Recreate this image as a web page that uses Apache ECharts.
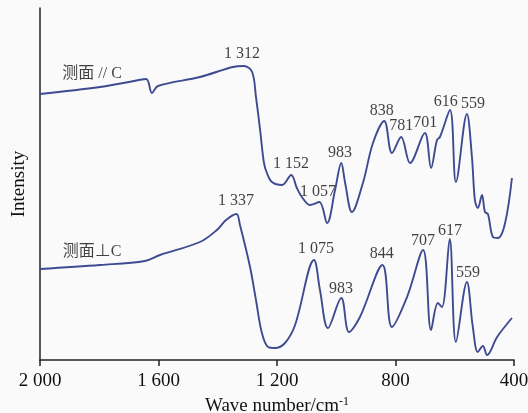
<!DOCTYPE html>
<html style="height: 100%; width: 100%">
  <head>
    <meta charset="utf-8" />
  </head>
  <body style="height: 100%; width: 100%; margin: 0; background: #fafafa">
    <div id="chart-panel" style="height: 413px; width: 528px"></div>
    <script
      type="text/javascript"
      src="https://fastly.jsdelivr.net/npm/echarts@6/dist/echarts.min.js"
    ></script>
    <script type="text/javascript">
      // [wave number, intensity] (intensity in arbitrary units)
      var parallelC = [
        [2000, 266], [1797, 273], [1700, 278], [1642, 281], [1622, 267],
        [1602, 274], [1460, 283], [1349, 293], [1312, 294], [1284, 288],
        [1271, 263], [1257, 230], [1244, 197], [1234, 187], [1217, 178],
        [1183, 175], [1152, 185], [1133, 172], [1116, 163], [1089, 155],
        [1057, 158], [1031, 137], [1004, 170], [983, 197], [970, 177],
        [947, 148], [910, 177], [876, 217], [838, 239], [812, 207],
        [781, 223], [751, 197], [701, 227], [680, 192], [660, 220],
        [650, 223], [616, 250], [596, 178], [559, 246], [542, 203],
        [532, 160], [522, 152], [508, 165], [498, 148], [488, 146],
        [471, 123], [454, 122], [430, 137], [407, 182]
      ];
      var perpC = [
        [2000, 91], [1797, 95], [1646, 99], [1595, 105], [1460, 118],
        [1403, 130], [1372, 140], [1337, 146], [1325, 135], [1291, 93],
        [1271, 60], [1251, 27], [1230, 13], [1207, 12], [1173, 17],
        [1139, 35], [1075, 100], [1055, 70], [1028, 32], [983, 62],
        [957, 28], [920, 43], [844, 95], [812, 33], [761, 63],
        [707, 110], [680, 30], [657, 57], [643, 53], [617, 121],
        [596, 18], [559, 78], [539, 33], [522, 8], [505, 14],
        [491, 5], [457, 23], [407, 42]
      ];
      // peak labels: [wave number, intensity, text]
      var parallelLabels = [
        [1824, 286, "测面 // C"], [1318, 306, "1 312"], [1153, 196, "1 152"],
        [1062, 168, "1 057"], [987, 207, "983"], [846, 249, "838"],
        [781, 234, "781"], [700, 237, "701"], [630, 258, "616"],
        [538, 256, "559"]
      ];
      var perpLabels = [
        [1338, 159, "1 337"], [1824, 108, "测面⊥C"], [1068, 111, "1 075"],
        [984, 71, "983"], [846, 106, "844"], [707, 119, "707"],
        [616, 129, "617"], [555, 87, "559"]
      ];
      var tickValues = [2000, 1600, 1200, 800, 400];
      var tickLabels = ["2 000", "1 600", "1 200", "800", "400"];

      var serif = "Liberation Serif, Times New Roman, Noto Sans CJK SC, serif";
      var lineColor = "#3f4b90";

      var dom = document.getElementById("chart-panel");
      var myChart = echarts.init(dom);

      function labelSeries(data) {
        return {
          type: "scatter",
          symbolSize: 0,
          silent: true,
          data: data,
          label: {
            show: true,
            position: [0, 0],
            align: "center",
            verticalAlign: "middle",
            fontFamily: serif,
            fontSize: 16,
            color: "#111",
            formatter: function (p) {
              return p.value[2];
            },
          },
        };
      }

      function spectrum(data) {
        return {
          type: "line",
          data: data,
          smooth: 0.35,
          showSymbol: false,
          lineStyle: { color: lineColor, width: 1.9 },
        };
      }

      var option = {
        backgroundColor: "#fafafa",
        animation: false,
        grid: { left: 40, right: 14, top: 8, bottom: 53, outerBoundsMode: "none", containLabel: false },
        xAxis: {
          type: "value",
          inverse: true,
          min: 400,
          max: 2000,
          interval: 400,
          name: "Wave number/cm{sup|-1}",
          nameLocation: "middle",
          nameGap: 36,
          nameTextStyle: {
            fontFamily: serif,
            fontSize: 19,
            color: "#111",
            rich: {
              sup: { fontFamily: serif, fontSize: 12, padding: [0, 0, 9, 0], color: "#111" },
            },
          },
          splitLine: { show: false },
          axisLine: { lineStyle: { color: "#222", width: 1.5 } },
          axisTick: { length: 6, lineStyle: { color: "#222", width: 1.5 } },
          axisLabel: {
            fontFamily: serif,
            fontSize: 19,
            color: "#111",
            margin: 12,
            formatter: function (v) {
              var i = tickValues.indexOf(v);
              return i >= 0 ? tickLabels[i] : "";
            },
          },
        },
        yAxis: {
          type: "value",
          min: 0,
          max: 352,
          name: "Intensity",
          nameLocation: "middle",
          nameGap: 11,
          nameTextStyle: { fontFamily: serif, fontSize: 19, color: "#111" },
          splitLine: { show: false },
          axisLine: { show: true, lineStyle: { color: "#222", width: 1.5 } },
          axisTick: { show: false },
          axisLabel: { show: false },
        },
        series: [
          spectrum(parallelC),
          spectrum(perpC),
          labelSeries(parallelLabels),
          labelSeries(perpLabels),
        ],
      };
      myChart.setOption(option);
    </script>
  </body>
</html>
